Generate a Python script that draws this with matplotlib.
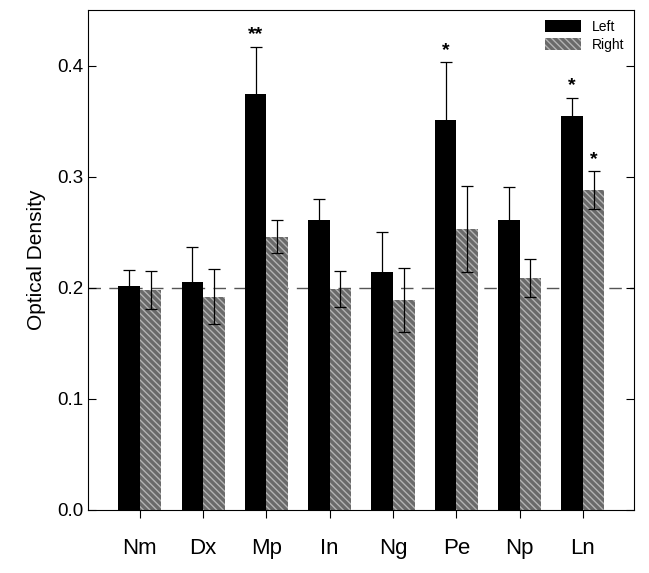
import numpy as np
import matplotlib.pyplot as plt

plt.rcParams['font.family'] = ['Liberation Sans', 'DejaVu Sans']

regions = ['Nm', 'Dx', 'Mp', 'In', 'Ng', 'Pe', 'Np', 'Ln']
left_mean = [0.202, 0.205, 0.374, 0.261, 0.214, 0.351, 0.261, 0.355]
left_err = [0.014, 0.032, 0.043, 0.019, 0.036, 0.052, 0.030, 0.016]
right_mean = [0.198, 0.192, 0.246, 0.199, 0.189, 0.253, 0.209, 0.288]
right_err = [0.017, 0.025, 0.015, 0.016, 0.029, 0.039, 0.017, 0.017]
# significance marks: (group index, side, label)
stars = [(2, 'L', '**'), (5, 'L', '*'), (7, 'L', '*'), (7, 'R', '*')]

x = np.arange(len(regions))
w = 0.34

fig = plt.figure(figsize=(6.49, 5.73), dpi=100)
ax = fig.add_axes([0.1356, 0.110, 0.8414, 0.8725])

ax.axhline(0.2, color='#555555', lw=1.0, dashes=(9, 6), zorder=0)

ax.bar(x - w / 2, left_mean, w, color='black', label='Left', zorder=2)
ax.errorbar(x - w / 2, left_mean, yerr=left_err, fmt='none', ecolor='black',
            elinewidth=0.9, capsize=4, capthick=0.9, zorder=3)
ax.bar(x + w / 2, right_mean, w, color='#6a6a6a', edgecolor='#b4b4b4', lw=0,
       hatch='\\\\\\\\\\', label='Right', zorder=2)
ax.errorbar(x + w / 2, right_mean, yerr=right_err, fmt='none', ecolor='black',
            elinewidth=0.9, capsize=4, capthick=0.9, zorder=3)

for i, side, lab in stars:
    if side == 'L':
        xs, top = x[i] - w / 2, left_mean[i] + left_err[i]
    else:
        xs, top = x[i] + w / 2, right_mean[i] + right_err[i]
    ax.text(xs, top + 0.003, lab, ha='center', va='bottom', fontsize=14,
            fontweight='bold')

ax.set_xlim(-0.82, 7.81)
ax.set_ylim(0, 0.45)
ax.set_yticks([0.0, 0.1, 0.2, 0.3, 0.4])
ax.set_yticklabels(['0.0', '0.1', '0.2', '0.3', '0.4'], fontsize=13.5)
ax.set_xticks(x)
ax.set_xticklabels(regions, fontsize=16)
ax.tick_params(axis='y', direction='in', right=True, length=6, width=0.8)
ax.tick_params(axis='x', direction='out', length=6, width=0.8, pad=14)
ax.set_ylabel('Optical Density', fontsize=15, labelpad=8)
for s in ax.spines.values():
    s.set_linewidth(0.8)

ax.legend(loc='upper right', frameon=False, fontsize=10, handlelength=2.6,
          handleheight=1.0, borderaxespad=0.3, labelspacing=0.3)

fig.savefig('out.png', dpi=100)
